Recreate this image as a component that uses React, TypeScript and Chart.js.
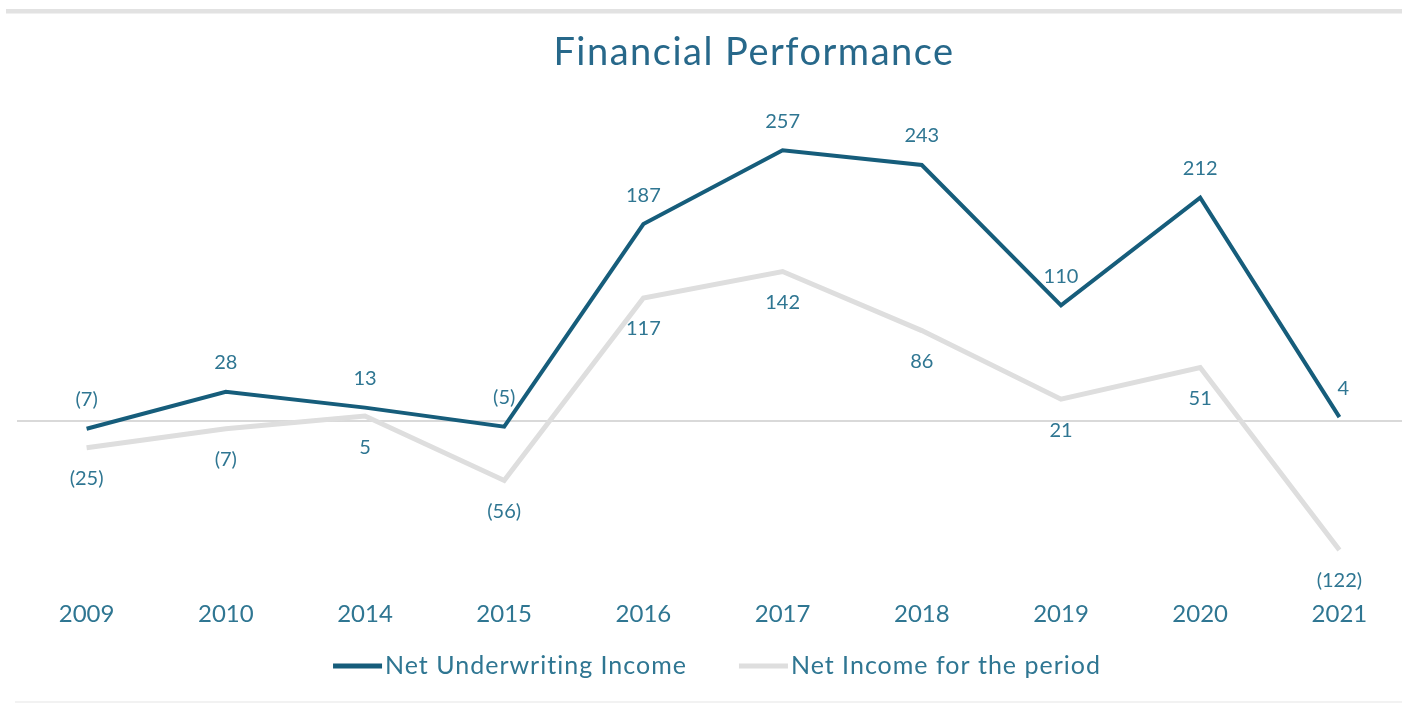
import React, { useEffect, useRef } from "react";
import { Chart, registerables } from "chart.js";

Chart.register(...registerables);

const TITLE = "Financial Performance";
const YEARS = ["2009", "2010", "2014", "2015", "2016", "2017", "2018", "2019", "2020", "2021"];
const SERIES_NAMES = ["Net Underwriting Income", "Net Income for the period"];
const NET_UNDERWRITING = [-7, 28, 13, -5, 187, 257, 243, 110, 212, 4];
const NET_INCOME = [-25, -7, 5, -56, 117, 142, 86, 21, 51, -122];

const DARK = "#165d7b";
const GRAY = "#dedede";
const TEXT = "#2f7692";
const FONT = "Lato, 'Open Sans', sans-serif";

const fmt = (v: number) => (v < 0 ? `(${Math.abs(v)})` : `${v}`);

const decorPlugin = {
  id: "decor",
  beforeDraw(chart: any) {
    const ctx = chart.ctx;
    ctx.save();
    ctx.fillStyle = "#ffffff";
    ctx.fillRect(0, 0, chart.width, chart.height);
    ctx.fillStyle = "#e2e2e2";
    ctx.fillRect(6, 9, chart.width, 4);
    ctx.fillStyle = "#f0f0f0";
    ctx.fillRect(6, 13, chart.width, 1);
    ctx.fillStyle = "#f2f2f2";
    ctx.fillRect(15, 701, chart.width, 2);
    ctx.restore();
  },
  afterDraw(chart: any) {
    const ctx = chart.ctx;
    ctx.save();
    // title
    ctx.fillStyle = "#27688a";
    ctx.font = `38px ${FONT}`;
    (ctx as any).letterSpacing = "1.5px";
    ctx.textAlign = "center";
    ctx.textBaseline = "middle";
    ctx.fillText(TITLE, 754, 53);
    (ctx as any).letterSpacing = "0px";

    // data labels
    ctx.font = `20px ${FONT}`;
    ctx.fillStyle = TEXT;
    chart.data.datasets.forEach((ds: any, di: number) => {
      const meta = chart.getDatasetMeta(di);
      meta.data.forEach((pt: any, i: number) => {
        const v = ds.data[i];
        const dy = di === 0 ? -29 : 31;
        const dx = di === 0 && i === ds.data.length - 1 ? 4 : 0;
        ctx.fillText(fmt(v), pt.x + dx, pt.y + dy);
      });
    });

    // legend
    const ly = 666;
    ctx.font = `25px ${FONT}`;
    (ctx as any).letterSpacing = "1px";
    ctx.textAlign = "left";
    const items = [
      { name: SERIES_NAMES[0], color: DARK },
      { name: SERIES_NAMES[1], color: GRAY },
    ];
    const sw = 49;
    const gap = 3;
    const between = 52;
    const widths = items.map((it) => sw + gap + ctx.measureText(it.name).width);
    const total = widths[0] + between + widths[1];
    let x = 717 - total / 2;
    items.forEach((it, k) => {
      ctx.fillStyle = it.color;
      ctx.fillRect(x, ly - 2.5, sw, 5);
      ctx.fillStyle = TEXT;
      ctx.fillText(it.name, x + sw + gap, ly);
      x += widths[k] + between;
    });
    ctx.restore();
  },
};

export default function App() {
  const ref = useRef<HTMLCanvasElement | null>(null);

  useEffect(() => {
    document.body.style.margin = "0";
    const chart = new Chart(ref.current as HTMLCanvasElement, {
      type: "line",
      data: {
        labels: YEARS,
        datasets: [
          {
            label: SERIES_NAMES[0],
            data: NET_UNDERWRITING,
            borderColor: DARK,
            backgroundColor: DARK,
            borderWidth: 4,
            pointRadius: 0,
            tension: 0,
          },
          {
            label: SERIES_NAMES[1],
            data: NET_INCOME,
            borderColor: GRAY,
            backgroundColor: GRAY,
            borderWidth: 5,
            pointRadius: 0,
            tension: 0,
          },
        ],
      },
      options: {
        responsive: false,
        animation: false,
        layout: { padding: { left: 17, right: 3, top: 126, bottom: 0 } },
        plugins: {
          legend: { display: false },
          title: { display: false },
          tooltip: { enabled: false },
        },
        scales: {
          x: {
            offset: true,
            grid: { display: false },
            border: { display: false },
            ticks: {
              color: TEXT,
              font: { family: FONT, size: 24 },
              padding: 23,
              maxRotation: 0,
              autoSkip: false,
            },
            afterFit: (scale: any) => {
              scale.height = 703 - 569;
            },
          },
          y: {
            display: true,
            min: -140,
            max: 280,
            border: { display: false },
            ticks: { display: false, stepSize: 140 },
            grid: {
              drawTicks: false,
              color: (c: any) => (c.tick && c.tick.value === 0 ? "#d9d9d9" : "rgba(0,0,0,0)"),
              lineWidth: 2,
            },
            afterFit: (scale: any) => {
              scale.width = 0;
            },
          },
        },
      },
      plugins: [decorPlugin],
    });
    return () => chart.destroy();
  }, []);

  return (
    <div style={{ position: "absolute", left: 0, top: 0, width: 1402, height: 703, overflow: "hidden", background: "#fff" }}>
      <canvas ref={ref} width={1412} height={703} style={{ display: "block" }} />
    </div>
  );
}
